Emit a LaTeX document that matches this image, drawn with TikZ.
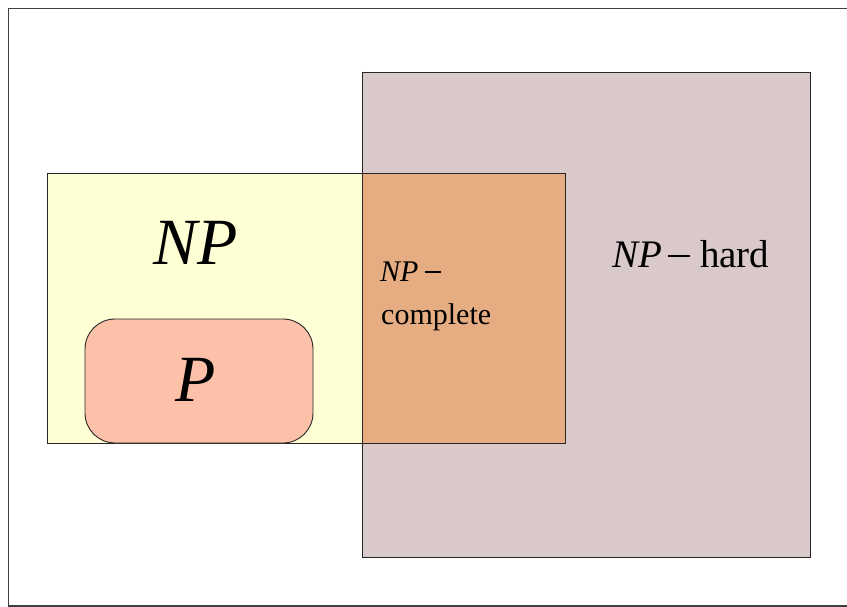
\documentclass[tikz,border=0pt]{standalone}
\usepackage{fontspec}
\setmainfont{Liberation Serif}
\begin{document}
\begin{tikzpicture}[x=1pt,y=-1pt,
  setbox/.style={draw=black!85,line width=0.9pt},
  lbl/.style={inner sep=0pt,anchor=base west,text=black}]
\definecolor{npyellow}{HTML}{FFFFD6}
\definecolor{nphard}{HTML}{D9C9CA}
\definecolor{npcomp}{HTML}{E6AD82}
\definecolor{pfill}{HTML}{FDC0A8}
\useasboundingbox (0,0) rectangle (847,607);
% frame
\draw[line width=1.4pt,black!75] (847,8.5) -- (8.5,8.5) -- (8.5,606) -- (847,606);
% NP-hard
\path[setbox,fill=nphard] (362,72) rectangle (810,557);
% NP
\path[setbox,fill=npyellow] (47,173) rectangle (362,443);
% NP-complete overlap
\path[setbox,fill=npcomp] (362,173) rectangle (565,443);
\draw[setbox] (47,173) -- (565,173);
\draw[setbox] (362,72) -- (362,557);
% P
\path[setbox,fill=pfill,rounded corners=30pt] (85,319) rectangle (313,443);
% labels
\node[inner sep=0pt,anchor=base] (np) at (196,265) {\fontsize{66}{70}\selectfont\textit{NP}};
\node[inner sep=0pt,anchor=base] (p) at (196,401) {\fontsize{66}{70}\selectfont\textit{P}};
\node[lbl] (npc1) at (380,281) {\fontsize{30}{34}\selectfont\textit{NP}\hspace{6pt}\rule[8pt]{16pt}{2pt}};
\node[lbl] (npc2) at (381,324) {\fontsize{30}{34}\selectfont complete};
\node[lbl] (nph) at (612,267) {\fontsize{39}{43}\selectfont\textit{NP}\hspace{6pt}\rule[10pt]{22pt}{2.4pt}\hspace{10pt}hard};
\end{tikzpicture}
\end{document}
